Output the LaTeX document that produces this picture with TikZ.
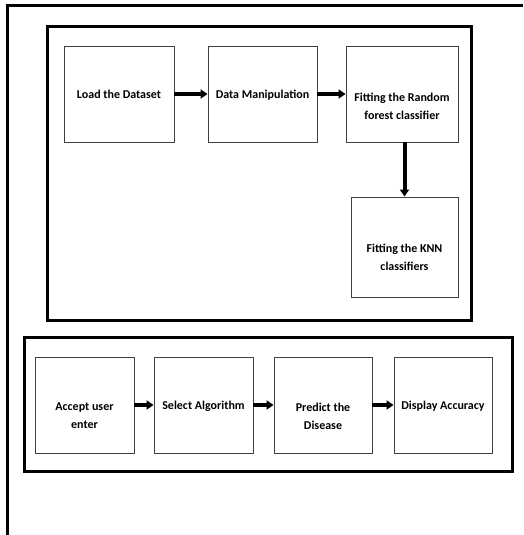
\documentclass[tikz,border=0pt]{standalone}
\usepackage{fontspec}
\setmainfont{Carlito}
\usetikzlibrary{arrows.meta}
\tikzset{>={Triangle[length=7pt,width=9pt]}}
\tikzset{
  frame/.style={line width=3pt},
  box/.style={draw=black!75, line width=0.9pt, minimum width=#1, minimum height=96pt, inner sep=0pt},
  box/.default=110pt,
  lbl/.style={font=\bfseries\fontsize{12}{18}\selectfont, align=center, inner sep=0pt, anchor=north},
  flow/.style={line width=4pt, ->}
}

\begin{document}
\begin{tikzpicture}[x=1pt,y=1pt]
            \useasboundingbox (0,0) rectangle (523,-535);
            % outer frame, open at right and bottom
            \draw[frame] (7,-535) -- (7,-6) -- (523,-6);
            % training part
            \draw[frame] (47,-27) rectangle (471,-320);
            \node[box] (load) at (119,-94) {};
            \node[box=109pt] (manip) at (262.5,-94) {};
            \node[box=112pt] (rf) at (402,-94) {};
            \node[box=107pt, minimum height=100pt] (knn) at (404.5,-247) {};
            \node[lbl] (load-t) at ([yshift=4]load.center) {Load the Dataset};
            \node[lbl] (manip-t) at ([yshift=4]manip.center) {Data Manipulation};
            \node[lbl] (rf-t) at ([yshift=1]rf.center) {Fitting the Random\\forest classifier};
            \node[lbl] (knn-t) at ([yshift=3]knn.center) {Fitting the KNN\\classifiers};
            \draw[flow] (load) -- (manip);
            \draw[flow] (manip) -- (rf);
            \draw[flow] (rf.south -| knn.north) -- (knn.north);
            % prediction part
            \draw[frame] (24,-337) rectangle (512,-471);
            \node[box=99pt] (accept) at (84.5,-405) {};
            \node[box=99pt] (select) at (203.5,-405) {};
            \node[box=98pt] (predict) at (323,-405) {};
            \node[box=98pt] (display) at (443,-405) {};
            \node[lbl] (accept-t) at ([yshift=2]accept.center) {Accept user\\enter};
            \node[lbl] (select-t) at ([yshift=4]select.center) {Select Algorithm};
            \node[lbl] (predict-t) at ([yshift=2]predict.center) {Predict the\\Disease};
            \node[lbl] (display-t) at ([yshift=4]display.center) {Display Accuracy};
            \foreach \a/\b in {accept/select,select/predict,predict/display}
                \draw[flow] (\a) -- (\b);
        \end{tikzpicture}
\end{document}
